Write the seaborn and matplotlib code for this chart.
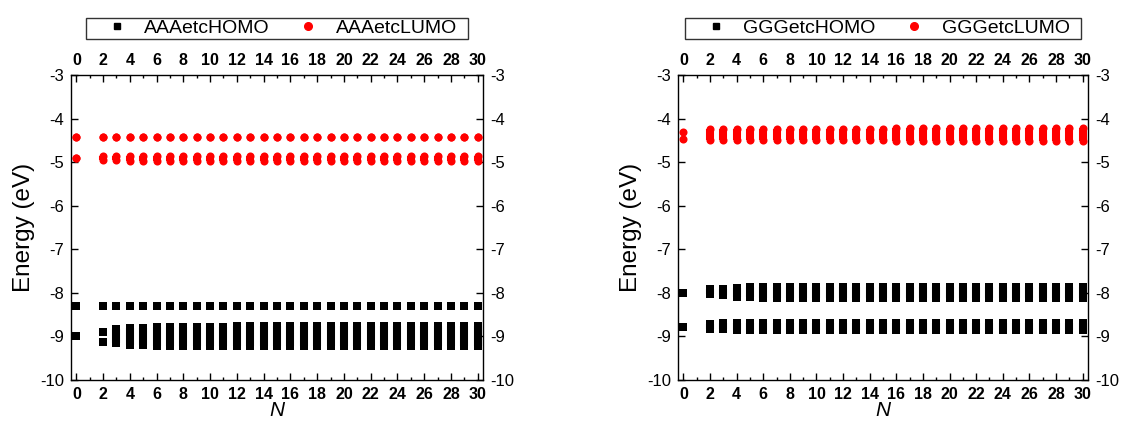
import matplotlib
matplotlib.use("Agg")
import matplotlib.pyplot as plt
from matplotlib.lines import Line2D
from matplotlib.path import Path
from matplotlib.ticker import MultipleLocator
import seaborn as sns
import pandas as pd

# ---------------- data (energies in eV) ----------------
n_values = [0, 2, 3, 4, 5, 6, 7, 8, 9, 10,
            11, 12, 13, 14, 15, 16, 17, 18, 19, 20,
            21, 22, 23, 24, 25, 26, 27, 28, 29, 30]
# number of levels in a band for each N (the N = 0 monomer has one)
level_counts = [1, 2, 3, 4, 5, 6, 7, 8, 9, 10,
                11, 12, 13, 14, 15, 16, 17, 18, 19, 20,
                21, 22, 23, 24, 25, 26, 27, 28, 29, 30]
# GGG has two LUMOs per unit
ggg_lumo_counts = [2, 4, 6, 8, 10, 12, 14, 16, 18, 20,
                   22, 24, 26, 28, 30, 32, 34, 36, 38, 40,
                   42, 44, 46, 48, 50, 52, 54, 56, 58, 60]

# AAAetc
aaa_homo_flat = [-8.30, -8.30, -8.30, -8.30, -8.30, -8.30, -8.30, -8.30, -8.30, -8.30,
                 -8.30, -8.30, -8.30, -8.30, -8.30, -8.30, -8.30, -8.30, -8.30, -8.30,
                 -8.30, -8.30, -8.30, -8.30, -8.30, -8.30, -8.30, -8.30, -8.30, -8.30]
aaa_homo_band_top = [-9.00, -8.89, -8.84, -8.81, -8.80, -8.79, -8.79, -8.78, -8.78, -8.78,
                     -8.78, -8.77, -8.77, -8.77, -8.77, -8.77, -8.77, -8.77, -8.77, -8.77,
                     -8.77, -8.77, -8.77, -8.77, -8.77, -8.77, -8.77, -8.77, -8.77, -8.77]
aaa_homo_band_bottom = [-9.00, -9.12, -9.16, -9.19, -9.20, -9.21, -9.21, -9.22, -9.22, -9.22,
                        -9.22, -9.23, -9.23, -9.23, -9.23, -9.23, -9.23, -9.23, -9.23, -9.23,
                        -9.23, -9.23, -9.23, -9.23, -9.23, -9.23, -9.23, -9.23, -9.23, -9.23]
aaa_lumo_flat = [-4.42, -4.42, -4.42, -4.42, -4.42, -4.42, -4.42, -4.42, -4.42, -4.42,
                 -4.42, -4.42, -4.42, -4.42, -4.42, -4.42, -4.42, -4.42, -4.42, -4.42,
                 -4.42, -4.42, -4.42, -4.42, -4.42, -4.42, -4.42, -4.42, -4.42, -4.42]
aaa_lumo_band_top = [-4.91, -4.87, -4.86, -4.85, -4.85, -4.85, -4.85, -4.85, -4.85, -4.85,
                     -4.85, -4.85, -4.85, -4.85, -4.85, -4.85, -4.85, -4.85, -4.85, -4.85,
                     -4.85, -4.85, -4.85, -4.85, -4.85, -4.85, -4.85, -4.85, -4.85, -4.85]
aaa_lumo_band_bottom = [-4.91, -4.94, -4.96, -4.97, -4.97, -4.97, -4.97, -4.97, -4.97, -4.98,
                        -4.98, -4.98, -4.98, -4.98, -4.98, -4.98, -4.98, -4.98, -4.98, -4.98,
                        -4.98, -4.98, -4.98, -4.98, -4.98, -4.98, -4.98, -4.98, -4.98, -4.98]

# GGGetc
ggg_homo_upper_top = [-8.00, -7.91, -7.90, -7.88, -7.87, -7.86, -7.86, -7.86, -7.86, -7.86,
                      -7.86, -7.86, -7.86, -7.86, -7.86, -7.86, -7.86, -7.86, -7.86, -7.86,
                      -7.86, -7.86, -7.86, -7.86, -7.86, -7.86, -7.86, -7.86, -7.86, -7.86]
ggg_homo_upper_bottom = [-8.00, -8.03, -8.06, -8.09, -8.10, -8.11, -8.11, -8.12, -8.12, -8.12,
                         -8.12, -8.12, -8.12, -8.12, -8.12, -8.12, -8.12, -8.12, -8.12, -8.12,
                         -8.12, -8.12, -8.12, -8.12, -8.12, -8.12, -8.12, -8.12, -8.12, -8.12]
ggg_homo_lower_top = [-8.79, -8.71, -8.70, -8.69, -8.69, -8.69, -8.69, -8.69, -8.69, -8.69,
                      -8.69, -8.69, -8.69, -8.69, -8.69, -8.69, -8.69, -8.69, -8.69, -8.69,
                      -8.69, -8.69, -8.69, -8.69, -8.69, -8.69, -8.69, -8.69, -8.69, -8.69]
ggg_homo_lower_bottom = [-8.79, -8.83, -8.84, -8.85, -8.85, -8.85, -8.85, -8.85, -8.85, -8.85,
                         -8.86, -8.86, -8.86, -8.86, -8.86, -8.86, -8.86, -8.86, -8.86, -8.86,
                         -8.86, -8.86, -8.86, -8.86, -8.86, -8.86, -8.86, -8.86, -8.86, -8.86]
ggg_lumo_top = [-4.30, -4.25, -4.24, -4.24, -4.24, -4.23, -4.23, -4.23, -4.23, -4.23,
                -4.23, -4.23, -4.23, -4.23, -4.23, -4.22, -4.22, -4.22, -4.22, -4.22,
                -4.22, -4.22, -4.22, -4.22, -4.22, -4.22, -4.22, -4.22, -4.22, -4.22]
ggg_lumo_bottom = [-4.48, -4.49, -4.50, -4.50, -4.50, -4.50, -4.50, -4.50, -4.50, -4.50,
                   -4.50, -4.50, -4.50, -4.50, -4.50, -4.51, -4.51, -4.51, -4.51, -4.51,
                   -4.51, -4.51, -4.51, -4.51, -4.51, -4.51, -4.51, -4.51, -4.51, -4.51]

x_ticks = [0, 2, 4, 6, 8, 10, 12, 14, 16, 18, 20, 22, 24, 26, 28, 30]
y_ticks = [-10, -9, -8, -7, -6, -5, -4, -3]

# ---------------- style ----------------
sns.set_theme(style="ticks")
plt.rcParams["font.family"] = ["Liberation Sans", "DejaVu Sans"]
plt.rcParams.update({
    "axes.linewidth": 1.0,
    "text.color": "black",
    "axes.labelcolor": "black",
    "axes.edgecolor": "black",
    "xtick.color": "black",
    "ytick.color": "black",
    "xtick.labelcolor": "black",
    "ytick.labelcolor": "black",
})

MARKER_PT = 5.8      # marker size in points
JOIN_MAX = 0.17      # levels closer than this (eV) merge visually into one bar
HOMO_COLOR = "black"
LUMO_COLOR = "#ff0000"


def draw_band(ax, top, bottom, counts, marker, color):
    df = pd.DataFrame({"N": n_values, "top": top, "bottom": bottom, "count": counts})
    pts = pd.concat([
        df[["N", "top"]].rename(columns={"top": "E"}),
        df[["N", "bottom"]].rename(columns={"bottom": "E"}),
    ], ignore_index=True)
    sns.scatterplot(data=pts, x="N", y="E", marker=marker, color=color,
                    s=MARKER_PT ** 2, linewidth=0, ax=ax, legend=False, zorder=3)
    spacing = (df["top"] - df["bottom"]) / (df["count"] - 1).clip(lower=1)
    joined = df[(df["top"] > df["bottom"]) & (spacing <= JOIN_MAX)]
    ax.vlines(joined["N"], joined["bottom"], joined["top"], colors=color,
              linewidth=MARKER_PT, capstyle="butt", zorder=3)


def wide_box(x0, y0, width, height, mutation_size):
    padx = 0.5 * mutation_size
    x0 -= padx
    width += 2 * padx
    return Path([(x0, y0), (x0 + width, y0), (x0 + width, y0 + height),
                 (x0, y0 + height), (x0, y0)], closed=True)


def style_axes(ax, name):
    ax.set_xlim(-0.4, 30.4)
    ax.set_ylim(-10, -3)
    ax.set_xticks(x_ticks)
    ax.xaxis.set_minor_locator(MultipleLocator(1))
    ax.set_yticks(y_ticks)
    ax.set_yticklabels([str(v) for v in y_ticks])
    ax.tick_params(axis="both", which="both", direction="in",
                   top=True, right=True, labeltop=True, labelright=True,
                   width=1.0, color="black", labelcolor="black")
    ax.tick_params(axis="both", which="major", length=5, pad=5)
    ax.tick_params(axis="both", which="minor", length=2.5)
    ax.tick_params(axis="x", labelsize=11.5)
    ax.tick_params(axis="y", labelsize=12)
    for lab in ax.xaxis.get_majorticklabels():
        lab.set_fontweight("bold")
    for sp in ax.spines.values():
        sp.set_visible(True)
        sp.set_color("black")
        sp.set_linewidth(1.0)
    ax.set_xlabel("N", fontsize=15, fontstyle="italic", labelpad=-0.5, color="black")
    ax.set_ylabel("Energy (eV)", fontsize=17.5, labelpad=4, color="black")
    handles = [
        Line2D([], [], marker="s", color=HOMO_COLOR, linestyle="none", markersize=5),
        Line2D([], [], marker="o", color=LUMO_COLOR, linestyle="none", markersize=5.5),
    ]
    leg = ax.legend(handles, [f"{name}HOMO", f"{name}LUMO"], ncol=2,
                    loc="lower center", bbox_to_anchor=(0.5, 1.118),
                    borderaxespad=0, frameon=True, fancybox=False,
                    edgecolor="black", fontsize=14, borderpad=0.1,
                    handlelength=2.0, handletextpad=0.4, columnspacing=1.0,
                    labelcolor="black")
    leg.get_frame().set_linewidth(1.0)
    leg.get_frame().set_boxstyle(wide_box)


fig = plt.figure(figsize=(11.25, 4.21), dpi=100)
fig.patch.set_facecolor("white")
ax1 = fig.add_axes([71 / 1125, 41 / 421, 412 / 1125, 305 / 421])
ax2 = fig.add_axes([678 / 1125, 41 / 421, 410 / 1125, 305 / 421])

# left panel: AAAetc
draw_band(ax1, aaa_homo_flat, aaa_homo_flat, level_counts, "s", HOMO_COLOR)
draw_band(ax1, aaa_homo_band_top, aaa_homo_band_bottom, level_counts, "s", HOMO_COLOR)
draw_band(ax1, aaa_lumo_flat, aaa_lumo_flat, level_counts, "o", LUMO_COLOR)
draw_band(ax1, aaa_lumo_band_top, aaa_lumo_band_bottom, level_counts, "o", LUMO_COLOR)
style_axes(ax1, "AAAetc")

# right panel: GGGetc
draw_band(ax2, ggg_homo_upper_top, ggg_homo_upper_bottom, level_counts, "s", HOMO_COLOR)
draw_band(ax2, ggg_homo_lower_top, ggg_homo_lower_bottom, level_counts, "s", HOMO_COLOR)
draw_band(ax2, ggg_lumo_top, ggg_lumo_bottom, ggg_lumo_counts, "o", LUMO_COLOR)
style_axes(ax2, "GGGetc")

fig.savefig("out.png", dpi=100, facecolor="white")
